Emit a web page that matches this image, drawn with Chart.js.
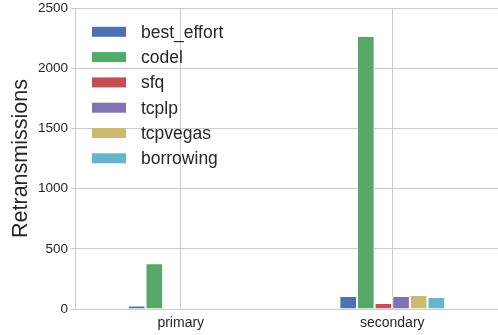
<!DOCTYPE html>
<html>
<head>
<meta charset="utf-8">
<script src="https://cdn.jsdelivr.net/npm/chart.js@4"></script>
<style>
  html, body { margin: 0; padding: 0; background: #fff; }
  #wrap { width: 498px; height: 335px; }
</style>
</head>
<body>
<div id="wrap"><canvas id="retrans-chart"></canvas></div>
<script>
const categories = ['primary', 'secondary'];
const bestEffort = [30, 108];
const codel = [380, 2267];
const sfq = [5, 50];
const tcplp = [0, 108];
const tcpvegas = [3, 116];
const borrowing = [0, 100];
const yTicks = [0, 500, 1000, 1500, 2000, 2500];

function series(label, data, color) {
    return {
        label: label,
        data: data,
        backgroundColor: color,
        borderColor: 'rgba(255, 255, 255, 0.55)',
        borderWidth: 1,
        categoryPercentage: 0.5,
        barPercentage: 1.0,
    };
}

// legend drawn inside the plot, top-left, one entry per row
const insideLegend = {
    id: 'insideLegend',
    afterDraw(chart) {
        const c = chart.ctx;
        const area = chart.chartArea;
        const x0 = area.left + 17;
        const y0 = 31.8;
        const step = 25.3;
        c.save();
        c.font = '17.5px "Liberation Sans"';
        c.textBaseline = 'middle';
        chart.data.datasets.forEach((ds, i) => {
            const y = y0 + i * step;
            c.fillStyle = ds.backgroundColor;
            c.fillRect(x0, y - 5, 34, 10);
            c.fillStyle = '#262626';
            c.fillText(ds.label, x0 + 49, y + 1);
        });
        c.restore();
    },
};

const ctx = document.getElementById('retrans-chart');
new Chart(ctx, {
    type: 'bar',
    data: {
        labels: categories,
        datasets: [
            series('best_effort', bestEffort, '#4C72B0'),
            series('codel', codel, '#55A868'),
            series('sfq', sfq, '#C44E52'),
            series('tcplp', tcplp, '#8172B2'),
            series('tcpvegas', tcpvegas, '#CCB974'),
            series('borrowing', borrowing, '#64B5CD'),
        ],
    },
    plugins: [insideLegend],
    options: {
        responsive: true,
        maintainAspectRatio: false,
        animation: false,
        layout: { padding: { top: 8, right: 0, left: 0, bottom: 0 } },
        plugins: {
            tooltip: { enabled: false },
            legend: { display: false },
        },
        scales: {
            x: {
                grid: { offset: false, color: '#cccccc', drawTicks: false },
                border: { color: '#cccccc' },
                ticks: {
                    color: '#262626',
                    padding: 6,
                    font: { family: 'Liberation Sans', size: 14 },
                },
                afterFit: (scale) => {
                    scale.height = 26;
                    scale.paddingLeft = 0;
                    scale.paddingRight = 0;
                },
            },
            y: {
                min: 0,
                max: 2500,
                afterBuildTicks: (scale) => {
                    scale.ticks = yTicks.map(v => ({ value: v }));
                },
                grid: { color: '#cccccc', tickLength: 4 },
                border: { color: '#cccccc' },
                ticks: {
                    color: '#262626',
                    padding: 3,
                    font: { family: 'Liberation Sans', size: 13.5 },
                    callback: (v) => String(v),
                },
                title: {
                    display: true,
                    text: 'Retransmissions',
                    color: '#262626',
                    padding: { top: 8, bottom: 0 },
                    font: { family: 'Liberation Sans', size: 21.5 },
                },
                afterFit: (scale) => {
                    scale.width = 75;
                    scale.paddingTop = 0;
                    scale.paddingBottom = 0;
                },
            },
        },
    },
});
</script>
</body>
</html>
